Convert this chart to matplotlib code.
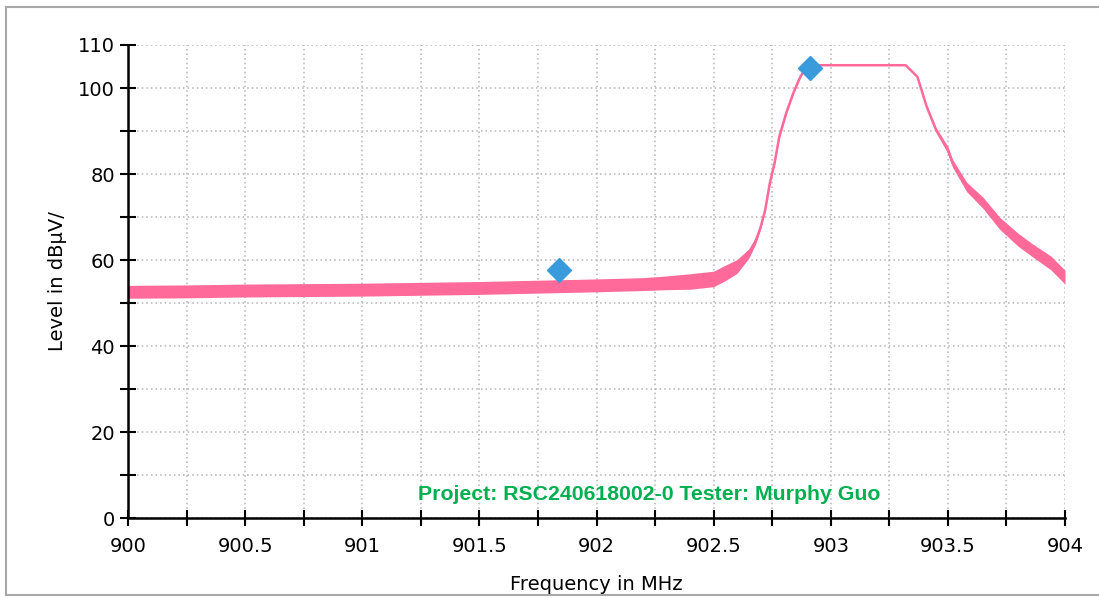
import matplotlib
matplotlib.use("Agg")
import matplotlib.pyplot as plt
from matplotlib.lines import Line2D
import numpy as np

# ---- data ----
freq = [900.00, 900.25, 900.50, 900.75, 901.00, 901.25, 901.50, 901.75, 902.00,
        902.20, 902.30, 902.40, 902.50, 902.55, 902.60, 902.65, 902.68, 902.70,
        902.72, 902.74, 902.76, 902.78, 902.81, 902.84, 902.87, 902.90, 903.32,
        903.37, 903.41, 903.45, 903.50, 903.52, 903.58, 903.65, 903.72, 903.80,
        903.86, 903.94, 904.00]
level = [52.6, 52.7, 52.9, 53.0, 53.1, 53.3, 53.5, 53.8, 54.1,
         54.4, 54.7, 55.0, 55.6, 57.0, 58.5, 61.5, 64.5, 67.5,
         71.6, 77.9, 82.5, 88.6, 94.2, 98.8, 102.6, 105.3, 105.3,
         102.6, 95.6, 90.2, 85.6, 82.5, 77.0, 73.3, 68.6, 64.7,
         62.3, 59.3, 56.0]
spread = [1.5, 1.5, 1.5, 1.5, 1.5, 1.5, 1.5, 1.5, 1.5,
          1.5, 1.6, 1.8, 1.8, 1.8, 1.6, 1.1, 0.7, 0.4,
          0.3, 0.3, 0.3, 0.3, 0.3, 0.2, 0.1, 0.0, 0.0,
          0.1, 0.3, 0.5, 0.8, 0.9, 1.1, 1.3, 1.4, 1.5,
          1.5, 1.6, 1.6]
marker_freq = [901.84, 902.91]
marker_level = [57.7, 104.7]

xticks = [900, 900.25, 900.5, 900.75, 901, 901.25, 901.5, 901.75, 902,
          902.25, 902.5, 902.75, 903, 903.25, 903.5, 903.75, 904]
xticklabels = ["900", "", "900.5", "", "901", "", "901.5", "", "902",
               "", "902.5", "", "903", "", "903.5", "", "904"]
yticks = [0, 10, 20, 30, 40, 50, 60, 70, 80, 90, 100, 110]
yticklabels = ["0", "", "20", "", "40", "", "60", "", "80", "", "100", "110"]

note = "Project: RSC240618002-0 Tester: Murphy Guo"

# ---- figure ----
W, H = 1099, 599
fig = plt.figure(figsize=(W / 100, H / 100), dpi=100)
ax = fig.add_axes([128 / W, 1 - 518 / H, (1065 - 128) / W, (518 - 45) / H])

trace_color = "#FF6A9A"
f = np.array(freq)
lv = np.array(level)
sp = np.array(spread)
ax.fill_between(f, lv - sp, lv + sp, color=trace_color, lw=0, zorder=3)
ax.plot(f, lv, color=trace_color, lw=1.8, zorder=3)
ax.plot(marker_freq, marker_level, linestyle="none", marker="D",
        markersize=12, color="#3A9BDC", zorder=4)

ax.set_xlim(900, 904)
ax.set_ylim(0, 110)
ax.set_xticks(xticks)
ax.set_xticklabels(xticklabels)
ax.set_yticks(yticks)
ax.set_yticklabels(yticklabels)

ax.grid(True, color="#B4B4B4", linestyle=(0, (1, 2)), linewidth=1.1, zorder=0)
ax.set_axisbelow(True)
for s in ("top", "right"):
    ax.spines[s].set_visible(False)
for s in ("left", "bottom"):
    ax.spines[s].set_linewidth(1.8)
    ax.spines[s].set_zorder(5)
ax.tick_params(direction="inout", length=11, width=1.5, labelsize=14,
               colors="black", pad=4)
ax.tick_params(axis="x", pad=8)

ax.set_xlabel("Frequency in MHz", fontsize=14, labelpad=14)
ax.set_ylabel("Level in dBµV/", fontsize=14, labelpad=8)

ax.text(649 / W, 1 - 495 / H, note, transform=fig.transFigure,
        ha="center", va="center", fontsize=15.3, fontweight="bold",
        color="#00B050", family="Liberation Sans", zorder=6)

# outer frame (left, top, bottom visible in the reference)
frame_c = "#A8A8A8"
fig.add_artist(Line2D([6 / W, 6 / W], [1 - 7 / H, 1 - 595 / H], color=frame_c, lw=1.5,
                      transform=fig.transFigure))
fig.add_artist(Line2D([6 / W, 1.0], [1 - 7 / H, 1 - 7 / H], color=frame_c, lw=1.5,
                      transform=fig.transFigure))
fig.add_artist(Line2D([6 / W, 1.0], [1 - 595 / H, 1 - 595 / H], color=frame_c, lw=1.5,
                      transform=fig.transFigure))

fig.savefig("out.png", dpi=100)
